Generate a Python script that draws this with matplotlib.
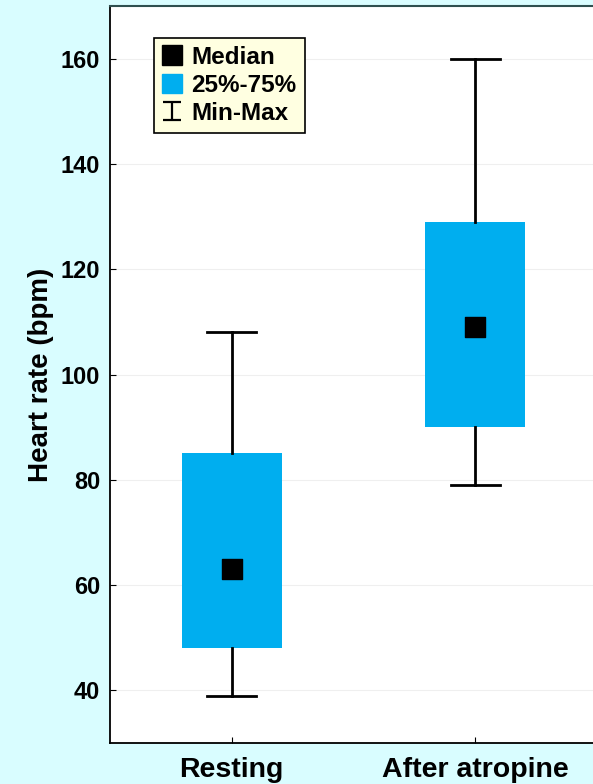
import numpy as np
import matplotlib.pyplot as plt
from matplotlib.path import Path
from matplotlib.lines import Line2D
from matplotlib.patches import Patch

plt.rcParams['font.family'] = ['Liberation Sans', 'DejaVu Sans']
plt.rcParams['font.weight'] = 'bold'

# data
groups = ["Resting", "After atropine"]
medians = [63, 109]
q1 = [48, 90]
q3 = [85, 129]
mins = [39, 79]
maxs = [108, 160]

BG = "#D9FDFF"
BOX = "#00AEEF"

fig = plt.figure(figsize=(5.93, 7.84), dpi=100, facecolor=BG)
ax = fig.add_axes([110 / 593, 41 / 784, 487 / 593, 737 / 784])
ax.set_facecolor("white")

stats = [
    dict(med=m, q1=a, q3=b, whislo=lo, whishi=hi, label=g)
    for g, m, a, b, lo, hi in zip(groups, medians, q1, q3, mins, maxs)
]
pos = np.arange(len(groups))
ax.bxp(
    stats, positions=pos, widths=0.41, showfliers=False, patch_artist=True,
    boxprops=dict(facecolor=BOX, edgecolor=BOX, linewidth=0),
    whiskerprops=dict(color="black", linewidth=2),
    capprops=dict(color="black", linewidth=2),
    medianprops=dict(linewidth=0),
    capwidths=0.2, zorder=3,
)
ax.scatter(pos, medians, marker="s", s=200, color="black", zorder=4)

ax.set_xlim(-0.5, 1.5)
ax.set_ylim(30, 170)
ax.set_yticks(np.arange(40, 161, 20))
ax.set_xticks(pos)
ax.set_xticklabels(groups, fontsize=20.5, fontweight="bold")
ax.tick_params(axis="y", labelsize=17, direction="in", length=4, pad=7)
ax.tick_params(axis="x", direction="in", length=4, pad=10)
ax.grid(axis="y", color="#efefef", linewidth=0.8, zorder=0)
ax.set_axisbelow(True)

for s in ["left", "bottom"]:
    ax.spines[s].set_linewidth(1.3)
ax.spines["top"].set_color("#2f4f4f")
ax.spines["top"].set_linewidth(1.5)

ax.set_ylabel("Heart rate (bpm)", fontsize=20, fontweight="bold", labelpad=5)

# I-shaped marker for the min-max legend entry
ibar = Path(
    [(-1, 1), (1, 1), (0, 1), (0, -1), (-1, -1), (1, -1)],
    [Path.MOVETO, Path.LINETO, Path.MOVETO, Path.LINETO, Path.MOVETO, Path.LINETO],
)
handles = [
    Line2D([], [], marker="s", color="black", linestyle="none", markersize=14),
    Patch(facecolor=BOX, edgecolor=BOX),
    Line2D([], [], marker=ibar, color="black", linestyle="none",
           markersize=13, markeredgewidth=1.6, fillstyle="none"),
]
leg = ax.legend(
    handles, ["Median", "25%-75%", "Min-Max"],
    loc="upper left", bbox_to_anchor=(0.09, 0.957),
    frameon=True, fancybox=False, framealpha=1, edgecolor="black",
    handlelength=0.8, handleheight=0.8, handletextpad=0.4,
    labelspacing=0.2, borderpad=0.35, borderaxespad=0,
    prop=dict(weight="bold", size=17.5),
)
leg.get_frame().set_facecolor("#FFFFE1")
leg.get_frame().set_linewidth(1.2)

fig.savefig("out.png", dpi=100, facecolor=BG)
